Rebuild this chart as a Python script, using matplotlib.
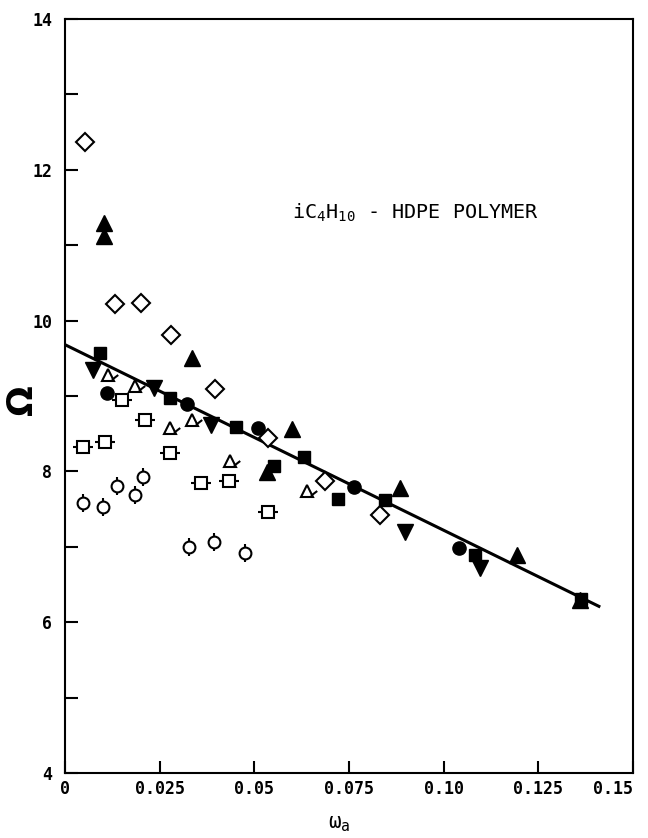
import matplotlib
matplotlib.use('Agg')
import matplotlib.pyplot as plt
from matplotlib.ticker import MultipleLocator, FixedLocator

plt.rcParams['font.family'] = ['DejaVu Sans Mono', 'DejaVu Sans']
plt.rcParams['mathtext.fontset'] = 'custom'
plt.rcParams['mathtext.rm'] = 'DejaVu Sans Mono'
plt.rcParams['mathtext.it'] = 'DejaVu Sans Mono'

# open diamonds
dia_x = [0.0053, 0.0131, 0.0200, 0.0281, 0.0397, 0.0536, 0.0686, 0.0833]
dia_y = [12.37, 10.22, 10.23, 9.81, 9.09, 8.44, 7.87, 7.42]

# filled up-triangles
tup_x = [0.0102, 0.0102, 0.0336, 0.0533, 0.0599, 0.0885, 0.1195, 0.1360]
tup_y = [11.29, 11.12, 9.50, 7.99, 8.56, 7.78, 6.89, 6.29]

# filled squares
sq_x = [0.0092, 0.0276, 0.0452, 0.0552, 0.0630, 0.0722, 0.0846, 0.1082, 0.1363]
sq_y = [9.57, 8.97, 8.59, 8.07, 8.19, 7.63, 7.62, 6.89, 6.31]

# filled circles
ci_x = [0.0110, 0.0323, 0.0510, 0.0764, 0.1040]
ci_y = [9.04, 8.89, 8.58, 7.79, 6.98]

# filled down-triangles
tdn_x = [0.0074, 0.0236, 0.0386, 0.0898, 0.1095]
tdn_y = [9.34, 9.11, 8.62, 7.20, 6.72]

# open triangles (flagged)
otr_x = [0.0113, 0.0184, 0.0276, 0.0336, 0.0436, 0.0638]
otr_y = [9.28, 9.13, 8.58, 8.68, 8.14, 7.74]

# open squares (flagged)
osq_x = [0.0047, 0.0105, 0.0150, 0.0210, 0.0276, 0.0360, 0.0433, 0.0536]
osq_y = [8.32, 8.39, 8.95, 8.68, 8.24, 7.85, 7.87, 7.46]

# open circles (flagged)
oci_x = [0.0047, 0.0100, 0.0137, 0.0184, 0.0205, 0.0328, 0.0394, 0.0475]
oci_y = [7.58, 7.53, 7.81, 7.69, 7.93, 7.00, 7.06, 6.92]

# correlation line
fit_x = [0.0, 0.141]
fit_y = [9.68, 6.21]

xticks = [0, 0.025, 0.05, 0.075, 0.10, 0.125, 0.15]
xtick_labels = ['0', '0.025', '0.05', '0.075', '0.10', '0.125', '0.15']
yticks = [4, 6, 8, 10, 12, 14]

fig = plt.figure(figsize=(6.48, 8.38), dpi=100)
ax = fig.add_axes([0.1003, 0.0776, 0.8765, 0.8998])

ax.plot(fit_x, fit_y, color='black', lw=2.2, zorder=2)

ew = 1.5
ax.plot(dia_x, dia_y, 'D', ms=9, mfc='white', mec='black', mew=ew, ls='none', zorder=3)
ax.plot(tup_x, tup_y, '^', ms=12, color='black', ls='none', zorder=3)
ax.plot(sq_x, sq_y, 's', ms=9, color='black', ls='none', zorder=3)
ax.plot(ci_x, ci_y, 'o', ms=9.5, color='black', ls='none', zorder=3)
ax.plot(tdn_x, tdn_y, 'v', ms=11.5, color='black', ls='none', zorder=3)

flag = [(0.35, -0.45), (1.0, 0.05)]
ax.plot(otr_x, otr_y, '^', ms=9, mfc='white', mec='black', mew=ew, ls='none', zorder=3)
ax.plot(otr_x, otr_y, marker=flag, ms=14, mfc='none', mec='black', mew=ew, ls='none', zorder=3)

ax.plot(osq_x, osq_y, '_', ms=14, mec='black', mew=ew, ls='none', zorder=3)
ax.plot(osq_x, osq_y, 's', ms=8.5, mfc='white', mec='black', mew=ew, ls='none', zorder=3)

ax.plot(oci_x, oci_y, '|', ms=13, mec='black', mew=ew, ls='none', zorder=3)
ax.plot(oci_x, oci_y, 'o', ms=8.5, mfc='white', mec='black', mew=ew, ls='none', zorder=3)

ax.text(0.0599, 11.35, 'iC$_4$H$_{10}$ - HDPE POLYMER', fontsize=14.5, ha='left', va='baseline')

ax.set_xlim(0, 0.15)
ax.set_ylim(4, 14)
ax.xaxis.set_major_locator(FixedLocator(xticks))
ax.set_xticklabels(xtick_labels)
ax.yaxis.set_major_locator(FixedLocator(yticks))
ax.yaxis.set_minor_locator(MultipleLocator(1))

for s in ax.spines.values():
    s.set_linewidth(1.5)
ax.tick_params(which='both', direction='in', length=9, width=1.5, top=False, right=False)
ax.tick_params(axis='x', labelsize=12, pad=5)
ax.tick_params(axis='y', labelsize=12, pad=9)
for lab in ax.get_xticklabels() + ax.get_yticklabels():
    lab.set_fontweight('bold')
ax.get_xticklabels()[-1].set_ha('right')

ax.set_ylabel('Ω', fontsize=26, fontweight='bold', family='DejaVu Sans', rotation=90)
ax.yaxis.set_label_coords(-0.045, 0.495)
ax.set_xlabel('ω$_a$', fontsize=15, family='DejaVu Sans Mono')
ax.xaxis.set_label_coords(0.483, -0.055)

plt.savefig('out.png', dpi=100)
